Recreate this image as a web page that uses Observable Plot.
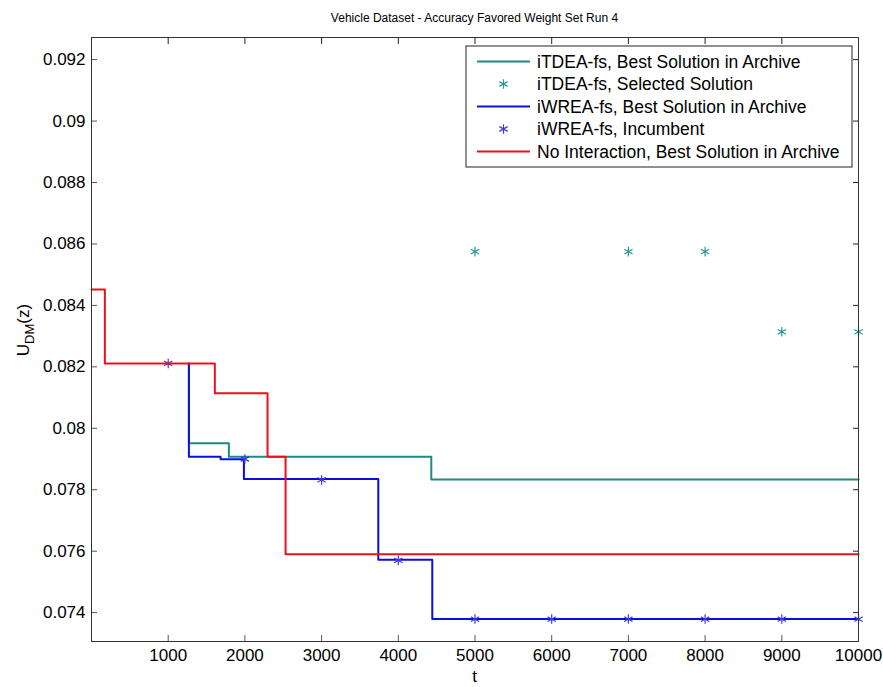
<!DOCTYPE html>
<html>
<head>
<meta charset="utf-8">
<script src="https://cdn.jsdelivr.net/npm/d3@7"></script>
<script src="https://cdn.jsdelivr.net/npm/@observablehq/plot@0.6"></script>
<style>
  html, body { margin: 0; padding: 0; background: #fff; }
  #chart { width: 883px; height: 687px; }
  svg { font-family: "Liberation Sans", Arial, sans-serif; }
</style>
</head>
<body>
<div id="chart"></div>
<script>
// ---- data ----
const title = "Vehicle Dataset - Accuracy Favored Weight Set Run 4";
const xLabel = "t";
const seriesNames = [
  "iTDEA-fs, Best Solution in Archive",
  "iTDEA-fs, Selected Solution",
  "iWREA-fs, Best Solution in Archive",
  "iWREA-fs, Incumbent",
  "No Interaction, Best Solution in Archive"
];
const seriesColors = ["#1f8a80", "#2a9a8f", "#0a10dc", "#3b3bdc", "#e8121c"];

// step lines (value holds from t until next t)
const itdeaT = [1270, 1270, 1791, 4430, 10000];
const itdeaU = [0.08211, 0.07951, 0.07907, 0.07833, 0.07833];
const iwreaT = [1270, 1270, 1683, 1987, 3739, 4443, 10000];
const iwreaU = [0.08211, 0.07907, 0.07899, 0.07835, 0.07572, 0.07379, 0.07379];
const noIntT = [0, 174, 1608, 2295, 2530, 10000];
const noIntU = [0.08452, 0.08211, 0.08114, 0.07907, 0.07590, 0.07590];

// markers
const itdeaSelT = [5000, 7000, 8000, 9000, 10000];
const itdeaSelU = [0.08575, 0.08575, 0.08575, 0.08314, 0.08314];
const iwreaIncT = [1000, 2000, 3000, 4000, 5000, 6000, 7000, 8000, 9000, 10000];
const iwreaIncU = [0.08211, 0.07900, 0.07832, 0.07570, 0.07379, 0.07379, 0.07379, 0.07379, 0.07379, 0.07379];

const xTicks = [1000, 2000, 3000, 4000, 5000, 6000, 7000, 8000, 9000, 10000];
const yTicks = [0.074, 0.076, 0.078, 0.08, 0.082, 0.084, 0.086, 0.088, 0.09, 0.092];
const yTickLabels = ["0.074", "0.076", "0.078", "0.08", "0.082", "0.084", "0.086", "0.088", "0.09", "0.092"];

// ---- build ----
const toRows = (ts, us) => ts.map((t, i) => ({t, u: us[i]}));
const itdea = toRows(itdeaT, itdeaU);
const iwrea = toRows(iwreaT, iwreaU);
const noInt = toRows(noIntT, noIntU);
const itdeaSel = toRows(itdeaSelT, itdeaSelU);
const iwreaInc = toRows(iwreaIncT, iwreaIncU);

const W = 883, H = 687;
const mL = 91, mR = 25, mT = 37, mB = 46;
const fs = 17;

const svg = Plot.plot({
  width: W, height: H,
  marginLeft: mL, marginRight: mR, marginTop: mT, marginBottom: mB,
  style: {fontFamily: "Liberation Sans, Arial, sans-serif", fontSize: fs + "px", background: "#fff", color: "#000"},
  x: {domain: [0, 10000]},
  y: {domain: [0.07306, 0.09272]},
  marks: [
    Plot.axisX({anchor: "bottom", ticks: xTicks, tickSize: -6, tickPadding: 13, tickFormat: d => String(d), label: null, stroke: "#555", fontSize: fs}),
    Plot.axisX({anchor: "top", ticks: xTicks, tickSize: -6, tickFormat: () => "", label: null, stroke: "#222"}),
    Plot.axisY({anchor: "left", ticks: yTicks, tickSize: -6, tickPadding: 12, tickFormat: (d, i) => yTickLabels[i], label: null, stroke: "#555", fontSize: fs}),
    Plot.axisY({anchor: "right", ticks: yTicks, tickSize: -6, tickFormat: () => "", label: null, stroke: "#222"}),
    Plot.line(itdea, {x: "t", y: "u", curve: "step-after", stroke: seriesColors[0], strokeWidth: 2}),
    Plot.dot(itdeaSel, {x: "t", y: "u", symbol: "asterisk", r: 4.5, stroke: seriesColors[1], strokeWidth: 1.2}),
    Plot.line(iwrea, {x: "t", y: "u", curve: "step-after", stroke: seriesColors[2], strokeWidth: 2}),
    Plot.dot(iwreaInc, {x: "t", y: "u", symbol: "asterisk", r: 4.5, stroke: seriesColors[3], strokeWidth: 1.2}),
    Plot.line(noInt, {x: "t", y: "u", curve: "step-after", stroke: seriesColors[4], strokeWidth: 2}),
    Plot.frame({stroke: "#333", strokeWidth: 1})
  ]
});

const s = d3.select(svg);
// title
s.append("text").attr("x", mL + (W - mL - mR) / 2).attr("y", 22)
  .attr("text-anchor", "middle").attr("font-size", 12).attr("fill", "#000").text(title);
// x label
s.append("text").attr("x", mL + (W - mL - mR) / 2).attr("y", 682)
  .attr("text-anchor", "middle").attr("font-size", fs).attr("fill", "#000").text(xLabel);
// y label with subscript
const yl = s.append("text").attr("transform", "translate(29,330) rotate(-90)")
  .attr("text-anchor", "middle").attr("font-size", fs).attr("fill", "#000");
yl.append("tspan").text("U");
yl.append("tspan").attr("font-size", 13).attr("dy", 5).text("DM");
yl.append("tspan").attr("dy", -5).text("(z)");

// legend
const lg = s.append("g").attr("transform", "translate(466,46)");
lg.append("rect").attr("width", 386).attr("height", 121).attr("fill", "#fff").attr("stroke", "#222");
const kinds = ["line", "star", "line", "star", "line"];
seriesNames.forEach((name, i) => {
  const cy = 15.5 + i * 22.5;
  if (kinds[i] === "line") {
    lg.append("line").attr("x1", 11).attr("x2", 64).attr("y1", cy).attr("y2", cy)
      .attr("stroke", seriesColors[i]).attr("stroke-width", 2);
  } else {
    lg.append("path").attr("transform", `translate(37.5,${cy})`)
      .attr("d", d3.symbol(d3.symbolAsterisk, Math.PI * 4.5 * 4.5)())
      .attr("fill", "none").attr("stroke", seriesColors[i]).attr("stroke-width", 1.2);
  }
  lg.append("text").attr("x", 71).attr("y", cy).attr("dy", "0.35em")
    .attr("text-anchor", "start")
    .attr("font-size", 17.5).attr("fill", "#000").text(name);
});

document.getElementById("chart").appendChild(svg);
</script>
</body>
</html>
